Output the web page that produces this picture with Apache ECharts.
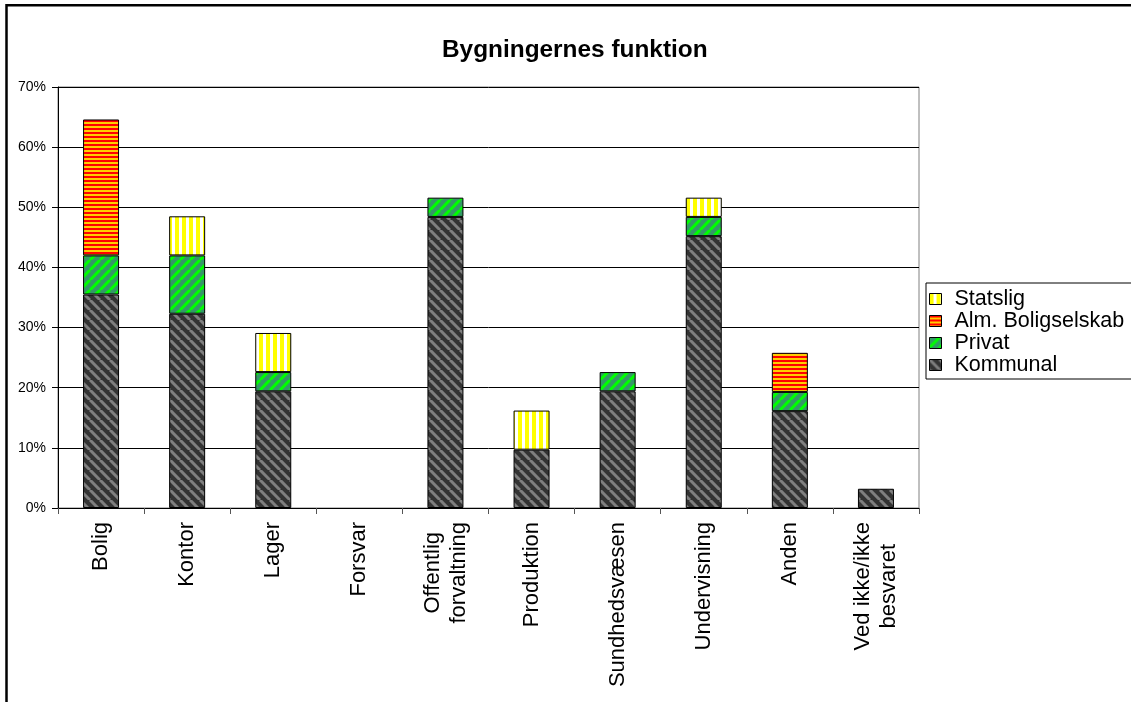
<!DOCTYPE html>
<html>
<head>
<meta charset="utf-8">
<script src="https://cdn.jsdelivr.net/npm/echarts@6/dist/echarts.min.js"></script>
<style>
  html, body { margin: 0; padding: 0; background: #fff; }
  #chart { width: 1131px; height: 702px; }
</style>
</head>
<body>
<div id="chart"></div>
<script>
// ---- Data (percent of respondents) ----
const categories = ['Bolig', 'Kontor', 'Lager', 'Forsvar', 'Offentlig\nforvaltning', 'Produktion',
  'Sundhedsvæsen', 'Undervisning', 'Anden', 'Ved ikke/ikke\nbesvaret'];
const kommunal = [35.5, 32.3, 19.4, 0, 48.4, 9.7, 19.4, 45.2, 16.1, 3.2];
const privat   = [6.5, 9.7, 3.2, 0, 3.2, 0, 3.2, 3.2, 3.2, 0];
const alm      = [22.6, 0, 0, 0, 0, 0, 0, 0, 6.5, 0];
const statslig = [0, 6.5, 6.5, 0, 0, 6.5, 0, 3.2, 0, 0];
const yTicks = [0, 10, 20, 30, 40, 50, 60, 70];

// ---- Fill patterns ----
function diagPattern(bg, fg, dir, size, lw) {
  const c = document.createElement('canvas');
  c.width = size; c.height = size;
  const g = c.getContext('2d');
  g.fillStyle = bg; g.fillRect(0, 0, size, size);
  g.strokeStyle = fg; g.lineWidth = lw;
  g.beginPath();
  for (const o of [-size, 0, size]) {
    if (dir === 'down') { g.moveTo(o, 0); g.lineTo(o + size, size); }
    else { g.moveTo(o, size); g.lineTo(o + size, 0); }
  }
  g.stroke();
  return { image: c, repeat: 'repeat' };
}
function stripePattern(c1, n1, c2, n2, vertical) {
  const c = document.createElement('canvas');
  const p = n1 + n2;
  c.width = vertical ? p : 4; c.height = vertical ? 4 : p;
  const g = c.getContext('2d');
  g.fillStyle = c2; g.fillRect(0, 0, c.width, c.height);
  g.fillStyle = c1;
  if (vertical) g.fillRect(0, 0, n1, c.height); else g.fillRect(0, 0, c.width, n1);
  return { image: c, repeat: 'repeat' };
}
const patKommunal = diagPattern('#333333', '#7f7f7f', 'down', 10, 3);
const patPrivat   = diagPattern('#339966', '#00ff00', 'up', 10, 3);
const patAlm      = stripePattern('#ff0000', 2, '#ffcc00', 2, false);
const patStatslig = stripePattern('#ffff00', 4, '#ffffff', 3, true);

const FONT = "'Liberation Sans', Arial, sans-serif";
const XFS = 22;
const nz = arr => arr.map(v => (v === 0 ? null : v));

// Centre the lines of multi-line category labels (as the original does)
const measureCtx = document.createElement('canvas').getContext('2d');
measureCtx.font = XFS + "px 'Liberation Sans', Arial, sans-serif";
const rich = {};
const labelText = {};
categories.forEach((cat, i) => {
  const lines = cat.split('\n');
  const widths = lines.map(s => measureCtx.measureText(s).width);
  const maxW = Math.max(...widths);
  labelText[cat] = lines.map((s, j) => {
    const key = 'l' + i + '_' + j;
    const pad = (maxW - widths[j]) / 2;
    rich[key] = { fontFamily: FONT, fontSize: XFS, color: '#000', lineHeight: 26, padding: [0, pad, 0, pad] };
    return '{' + key + '|' + s + '}';
  }).join('\n');
});

function barSeries(name, data, color) {
  return {
    name, type: 'bar', stack: 'total', barWidth: 36, data: nz(data),
    itemStyle: { color, borderColor: '#000', borderWidth: 1 },
    emphasis: { disabled: true }
  };
}

const chart = echarts.init(document.getElementById('chart'), null, { renderer: 'canvas' });
chart.setOption({
  backgroundColor: '#fff',
  animation: false,
  textStyle: { fontFamily: FONT },
  title: {
    text: 'Bygningernes funktion',
    left: 442, top: 38, padding: 0,
    textStyle: { fontFamily: FONT, fontSize: 24.4, fontWeight: 'bold', color: '#000' }
  },
  legend: {
    orient: 'vertical', left: 926, top: 283,
    padding: [5, 14, 3, 3], itemGap: 0,
    itemWidth: 12, itemHeight: 11, icon: 'rect',
    borderColor: '#000', borderWidth: 1,
    data: ['Statslig', 'Alm. Boligselskab', 'Privat', 'Kommunal'],
    itemStyle: { borderColor: '#000', borderWidth: 1 },
    textStyle: { fontFamily: FONT, fontSize: 21.5, lineHeight: 21, color: '#000', padding: [0, 0, 0, 8] }
  },
  grid: {
    left: 58, top: 87, width: 861, height: 421,
    show: true, borderColor: '#808080', borderWidth: 1, backgroundColor: '#fff',
    outerBoundsMode: 'none', containLabel: false
  },
  xAxis: {
    type: 'category', data: categories,
    axisLine: { lineStyle: { color: '#000', width: 1 } },
    axisTick: { show: true, length: 6, lineStyle: { color: '#555' } },
    axisLabel: {
      rotate: 90, interval: 0, margin: 14, color: '#000', fontFamily: FONT, fontSize: XFS,
      formatter: v => labelText[v] || v,
      rich
    }
  },
  yAxis: {
    type: 'value', min: yTicks[0], max: yTicks[yTicks.length - 1], interval: yTicks[1] - yTicks[0],
    axisLine: { show: true, lineStyle: { color: '#000', width: 1 } },
    axisTick: { show: true, length: 6, lineStyle: { color: '#000' } },
    axisLabel: { margin: 12, color: '#000', fontFamily: FONT, fontSize: 14, formatter: '{value}%' },
    splitLine: { show: true, lineStyle: { color: '#000', width: 1 } }
  },
  series: [
    barSeries('Kommunal', kommunal, patKommunal),
    barSeries('Privat', privat, patPrivat),
    barSeries('Alm. Boligselskab', alm, patAlm),
    barSeries('Statslig', statslig, patStatslig)
  ],
  graphic: [{
    type: 'rect', z: 100, silent: true,
    shape: { x: 6.5, y: 5.3, width: 1140, height: 720 },
    style: { fill: 'none', stroke: '#000', lineWidth: 2.5 }
  }]
});
</script>
</body>
</html>
